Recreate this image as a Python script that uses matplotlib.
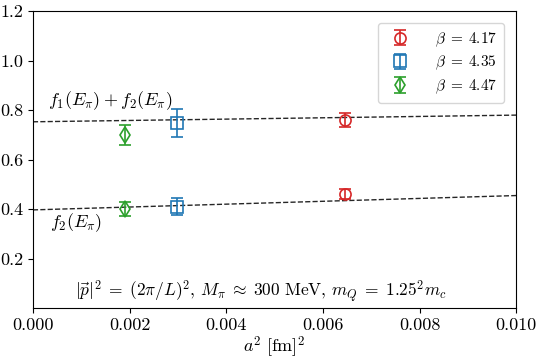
import numpy as np
import matplotlib
matplotlib.use("Agg")
import matplotlib.pyplot as plt

plt.rcParams['font.family'] = 'serif'
plt.rcParams['font.serif'] = ['cmr10']
plt.rcParams['mathtext.fontset'] = 'cm'
plt.rcParams['axes.formatter.use_mathtext'] = True

# Données
betas = ["4.17", "4.35", "4.47"]
a2 = [0.00646, 0.00298, 0.0019]
colors = ['tab:red', 'tab:blue', 'tab:green']
markers = ['o', 's', 'd']

f12 = [0.760, 0.748, 0.700]
f12_err = [0.030, 0.057, 0.040]
f2 = [0.460, 0.410, 0.400]
f2_err = [0.020, 0.034, 0.028]

# Ajustements linéaires (extrémités)
fit_x = [0.0, 0.010]
fit_f12 = [0.753, 0.780]
fit_f2 = [0.397, 0.455]

fig = plt.figure(figsize=(5.4, 3.6), dpi=100)
ax = fig.add_axes([0.061, 0.144, 0.895, 0.825])

ax.plot(fit_x, fit_f12, ls='--', color='k', lw=1.0, alpha=0.85)
ax.plot(fit_x, fit_f2, ls='--', color='k', lw=1.0, alpha=0.85)

for i in range(len(betas)):
    ax.errorbar(a2[i], f12[i], yerr=f12_err[i], fmt=markers[i], color=colors[i],
                mfc='none', ms=8, capsize=4, lw=1.2, mew=1.2,
                label=r"$\beta\;=\;%s$" % betas[i])
    ax.errorbar(a2[i], f2[i], yerr=f2_err[i], fmt=markers[i], color=colors[i],
                mfc='none', ms=8, capsize=4, lw=1.2, mew=1.2)

ax.text(0.00031, 0.84, r"$f_1(E_\pi)+f_2(E_\pi)$", fontsize=13, va='center')
ax.text(0.00035, 0.345, r"$f_2(E_\pi)$", fontsize=13, va='center')
ax.text(0.00472, 0.065,
        r"$|\vec{p}|^2\;=\;(2\pi/L)^2,\, M_\pi\;\approx\;300\ \mathrm{MeV},\, m_Q\;=\;1.25^2 m_c$",
        fontsize=12.5, ha='center', va='center')

ax.set_xlim(0, 0.010)
ax.set_ylim(0, 1.2)
ax.set_xticks([0, 0.002, 0.004, 0.006, 0.008, 0.010])
ax.set_xticklabels(["0.000", "0.002", "0.004", "0.006", "0.008", "0.010"])
ax.set_yticks([0.2, 0.4, 0.6, 0.8, 1.0, 1.2])
ax.set_yticklabels(["0.2", "0.4", "0.6", "0.8", "1.0", "1.2"])
ax.tick_params(labelsize=13)
ax.set_xlabel(r"$a^2\ [\mathrm{fm}]^2$", fontsize=13, labelpad=1)
ax.legend(loc='upper right', fontsize=11, handletextpad=1.3, labelspacing=0.35,
          borderpad=0.45, borderaxespad=0.8)

plt.savefig("out.png")
